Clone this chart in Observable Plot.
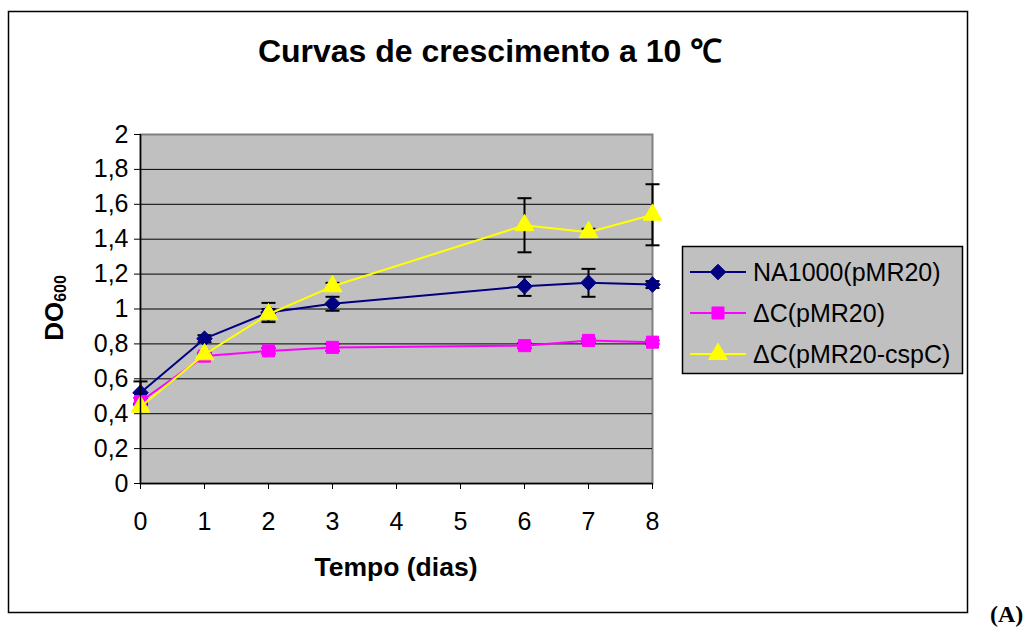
<!DOCTYPE html>
<html>
<head>
<meta charset="utf-8">
<script src="https://cdn.jsdelivr.net/npm/d3@7"></script>
<script src="https://cdn.jsdelivr.net/npm/@observablehq/plot@0.6"></script>
<style>
  html, body { margin: 0; padding: 0; background: #fff; }
  #chart svg { display: block; }
</style>
</head>
<body>
<div id="chart"></div>
<script>
// ---- data ----
const days = [0, 1, 2, 3, 6, 7, 8];
const seriesNames = ["NA1000(pMR20)", "ΔC(pMR20)", "ΔC(pMR20-cspC)"];
const na1000 = [0.52, 0.83, 0.98, 1.03, 1.13, 1.15, 1.14];
const na1000Err = [0.065, 0.02, 0.055, 0.04, 0.055, 0.08, 0.02];
const dcEmpty = [0.47, 0.73, 0.76, 0.78, 0.79, 0.82, 0.81];
const dcEmptyErr = [0.02, 0.01, 0.015, 0.02, 0.015, 0.01, 0.01];
const dcCspC = [0.44, 0.74, 0.97, 1.13, 1.48, 1.44, 1.54];
const dcCspCErr = [0.02, 0.01, 0.03, 0.02, 0.155, 0.02, 0.175];
const seriesColors = ["#000080", "#FF00FF", "#FFFF00"];
const seriesSymbols = ["diamond2", "square", "triangle"];
const seriesR = [7, 6.8, 7];
const yTicks = [0, 0.2, 0.4, 0.6, 0.8, 1, 1.2, 1.4, 1.6, 1.8, 2];
const xTicks = [0, 1, 2, 3, 4, 5, 6, 7, 8];
const titleText = "Curvas de crescimento a 10 ℃";
const xLabel = "Tempo (dias)";
const panelLabel = "(A)";

// ---- build table ----
const values = [na1000, dcEmpty, dcCspC];
const errors = [na1000Err, dcEmptyErr, dcCspCErr];
const rows = [];
seriesNames.forEach((s, i) => {
  days.forEach((d, j) => {
    rows.push({series: s, idx: i, day: d, od: values[i][j], err: errors[i][j]});
  });
});

const FONT = "'Liberation Sans', Arial, sans-serif";
const fmt = d => String(+d.toFixed(1)).replace(".", ",");
const capSymbol = {
  draw(context, size) {
    const r = Math.sqrt(size / Math.PI);
    context.moveTo(-r, 0);
    context.lineTo(r, 0);
  }
};

const marks = [
  Plot.frame({fill: "#c0c0c0", stroke: "#808080", strokeWidth: 2}),
  Plot.gridY(yTicks.filter(t => t > 0 && t < 2), {stroke: "#000", strokeOpacity: 1, strokeWidth: 1}),
  Plot.ruleX(rows, {x: "day", y1: d => d.od - d.err, y2: d => d.od + d.err, stroke: "#000", strokeWidth: 2}),
  Plot.dot(rows, {x: "day", y: d => d.od + d.err, symbol: capSymbol, r: 7, stroke: "#000", strokeWidth: 2, fill: "none"}),
  Plot.dot(rows, {x: "day", y: d => d.od - d.err, symbol: capSymbol, r: 7, stroke: "#000", strokeWidth: 2, fill: "none"})
];
seriesNames.forEach((s, i) => {
  const sub = rows.filter(r => r.idx === i);
  marks.push(Plot.line(sub, {x: "day", y: "od", stroke: seriesColors[i], strokeWidth: 2}));
  marks.push(Plot.dot(sub, {x: "day", y: "od", symbol: seriesSymbols[i], r: seriesR[i], fill: seriesColors[i], stroke: seriesColors[i], strokeWidth: 1}));
});
marks.push(
  Plot.ruleX([0], {stroke: "#000", strokeWidth: 1.5}),
  Plot.ruleY([0], {stroke: "#000", strokeWidth: 1.5}),
  Plot.axisY({ticks: yTicks, tickFormat: fmt, tickSize: 6, tickPadding: 6, fontSize: 25, label: null, stroke: "#000"}),
  Plot.axisX({ticks: xTicks, tickFormat: d => String(d), tickSize: 6, tickPadding: 23, fontSize: 25, label: null, stroke: "#000"})
);

const svg = Plot.plot({
  width: 1034,
  height: 628,
  marginLeft: 140,
  marginRight: 382,
  marginTop: 134,
  marginBottom: 145,
  style: {fontFamily: FONT, color: "#000", background: "#fff", overflow: "visible"},
  x: {domain: [0, 8]},
  y: {domain: [0, 2]},
  marks
});

const root = d3.select(svg);
// outer chart border
root.insert("rect", ":first-child")
  .attr("x", 8.5).attr("y", 11.5).attr("width", 959).attr("height", 601)
  .attr("fill", "#fff").attr("stroke", "#000").attr("stroke-width", 1.5);

// title
root.append("text")
  .attr("x", 490).attr("y", 62)
  .attr("text-anchor", "middle")
  .attr("font-family", FONT).attr("font-weight", "bold").attr("font-size", 32)
  .attr("fill", "#000")
  .text(titleText);

// x axis title
root.append("text")
  .attr("x", 396).attr("y", 576)
  .attr("text-anchor", "middle")
  .attr("font-family", FONT).attr("font-weight", "bold").attr("font-size", 26.5)
  .attr("fill", "#000")
  .text(xLabel);

// y axis title DO600
const yt = root.append("text")
  .attr("transform", "translate(63,308) rotate(-90)")
  .attr("text-anchor", "middle")
  .attr("font-family", FONT).attr("font-weight", "bold").attr("font-size", 26)
  .attr("fill", "#000");
yt.append("tspan").text("DO");
yt.append("tspan").attr("font-size", 16).attr("dy", 3).text("600");

// legend
const lg = root.append("g").attr("text-anchor", "start");
lg.append("rect")
  .attr("x", 682.5).attr("y", 246.5).attr("width", 280).attr("height", 127)
  .attr("fill", "#c0c0c0").attr("stroke", "#000").attr("stroke-width", 1.5);
const rowY = [272, 313, 354];
const symMap = {diamond2: d3.symbolDiamond2, square: d3.symbolSquare, triangle: d3.symbolTriangle};
seriesNames.forEach((s, i) => {
  const y = rowY[i];
  lg.append("line").attr("x1", 690).attr("x2", 746).attr("y1", y).attr("y2", y)
    .attr("stroke", seriesColors[i]).attr("stroke-width", 2);
  lg.append("path")
    .attr("transform", `translate(718,${y})`)
    .attr("d", d3.symbol(symMap[seriesSymbols[i]], Math.PI * seriesR[i] * seriesR[i])())
    .attr("fill", seriesColors[i]).attr("stroke", seriesColors[i]).attr("stroke-width", 1);
  lg.append("text").attr("x", 753).attr("y", y + 9)
    .attr("text-anchor", "start")
    .attr("font-family", FONT).attr("font-size", 25).attr("fill", "#000")
    .text(s);
});

// panel label
root.append("text")
  .attr("x", 990).attr("y", 622)
  .attr("text-anchor", "start")
  .attr("font-family", "'Liberation Serif', 'Times New Roman', serif")
  .attr("font-weight", "bold").attr("font-size", 24).attr("fill", "#000")
  .text(panelLabel);

document.getElementById("chart").appendChild(svg);
</script>
</body>
</html>
